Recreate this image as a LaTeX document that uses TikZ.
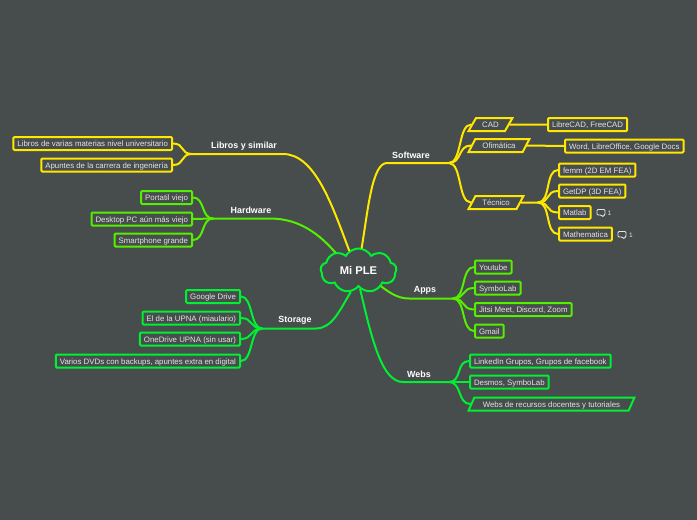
\documentclass[tikz,border=0pt]{standalone}
\usepackage{fontspec}
\setmainfont{Liberation Sans}
\usetikzlibrary{shapes.geometric,shapes.symbols}
\definecolor{bgdark}{HTML}{474C4C}
\definecolor{ylw}{HTML}{FFE800}
\definecolor{grn}{HTML}{00F032}
\definecolor{lime}{HTML}{55F000}
\definecolor{txt}{HTML}{E4E4E4}
\tikzset{%
  leaf/.style     = {shape=rectangle, rounded corners=1pt, draw, line width=2pt,%
                     fill=bgdark, text=txt, font=\fontsize{7.85}{9}\selectfont,%
                     minimum height=13pt, inner xsep=4pt, inner ysep=0pt,%
                     text height=7.5pt, text depth=1pt},%
  slanted/.style  = {leaf, shape=trapezium, rounded corners=0pt,%
                     trapezium left angle=58, trapezium right angle=122,%
                     trapezium stretches=true, inner xsep=2pt},%
  topic/.style    = {text=white, font=\bfseries\fontsize{8.9}{10}\selectfont,%
                     minimum height=16pt, inner sep=0pt, outer sep=0pt},%
  root/.style     = {shape=cloud, cloud puffs=9, cloud puff arc=120, aspect=1.7,%
                     draw=grn, line width=2pt, fill=bgdark, text=white,%
                     font=\bfseries\fontsize{11.2}{12}\selectfont,%
                     minimum width=76pt, minimum height=44pt, inner sep=0pt},%
  link/.style     = {line width=2pt, line cap=round},%
  branch/.style   = {out=180, in=0, distance=12pt},%
  rbranch/.style  = {out=0, in=180, distance=13pt},%
  bubble/.style   = {draw=txt, line width=.9pt, line join=round, rounded corners=1pt},%
  count/.style    = {text=txt, font=\fontsize{6.5}{8}\selectfont, inner sep=0pt}%
}
\newcommand{\commentmark}[2]{%
	\draw[bubble] (#1-4,#2-3.5) -- (#1+4,#2-3.5) -- (#1+4,#2+2) -- (#1+2.5,#2+2)%
		-- (#1+2.5,#2+4) -- (#1,#2+2) -- (#1-4,#2+2) -- cycle;%
}

\begin{document}
\begin{tikzpicture}[x=1pt,y=-1pt]%
	\fill[bgdark] (0,0) rectangle (697,520);
	\useasboundingbox (0,0) rectangle (697,520);
	% centre
	\node (ple) at (358.5,270.5) [root] {Mi PLE};
	% upper left
	\node (libros) at (244,146) [topic] {Libros y similar};
	\coordinate (hublibros) at (192,154);
	\node (varias) at (173,143.5) [leaf,draw=ylw,anchor=east] {Libros de varias materias nivel universitario};
	\node (apuntes) at (173,165) [leaf,draw=ylw,anchor=east] {Apuntes de la carrera de ingeniería};
	\draw[link,ylw] (ple.115) .. controls (332,205) and (315,154) .. (283,154) -- (libros.south west) -- (hublibros);
	\draw[link,ylw] (hublibros) to[branch] (varias.east);
	\draw[link,ylw] (hublibros) to[branch] (apuntes.east);
	\node (hardware) at (251,210.5) [topic] {Hardware};
	\coordinate (hubhardware) at (213,218.5);
	\node (portatil) at (193,197.5) [leaf,draw=lime,anchor=east] {Portatil viejo};
	\node (desktop) at (193,219) [leaf,draw=lime,anchor=east] {Desktop PC aún más viejo};
	\node (smartphone) at (193,240) [leaf,draw=lime,anchor=east] {Smartphone grande};
	\draw[link,lime] (ple.142) .. controls (320,235) and (300,218.5) .. (270,218.5) -- (hardware.south west) -- (hubhardware);
	\draw[link,lime] (hubhardware) to[branch] (portatil.east);
	\draw[link,lime] (hubhardware) -- (desktop.east);
	\draw[link,lime] (hubhardware) to[branch] (smartphone.east);
	% lower left
	\node (storage) at (295,320.5) [topic] {Storage};
	\coordinate (hubstorage) at (262,328.5);
	\node (gdrive) at (241,296.5) [leaf,draw=grn,anchor=east] {Google Drive};
	\node (miaulario) at (241,318) [leaf,draw=grn,anchor=east] {El de la UPNA (miaulario)};
	\node (onedrive) at (241,339) [leaf,draw=grn,anchor=east] {OneDrive UPNA (sin usar)};
	\node (dvds) at (241,361) [leaf,draw=grn,anchor=east] {Varios DVDs con backups, apuntes extra en digital};
	\draw[link,grn] (ple.250) .. controls (340,310) and (332,328.5) .. (316,328.5) -- (storage.south west) -- (hubstorage);
	\draw[link,grn] (hubstorage) to[branch] (gdrive.east);
	\draw[link,grn] (hubstorage) to[branch] (miaulario.east);
	\draw[link,grn] (hubstorage) to[branch] (onedrive.east);
	\draw[link,grn] (hubstorage) to[branch] (dvds.east);
	% upper right
	\node (software) at (411,155) [topic] {Software};
	\coordinate (hubsoftware) at (449,163);
	\node (cad) at (490.5,124.5) [slanted,draw=ylw,minimum width=44pt] {CAD};
	\node (ofimatica) at (499,145.5) [slanted,draw=ylw,minimum width=61pt] {Ofimática};
	\node (tecnico) at (496,202.5) [slanted,draw=ylw,minimum width=55pt] {Técnico};
	\coordinate (hubtecnico) at (538,202.5);
	\node (librecad) at (547,124.5) [leaf,draw=ylw,anchor=west] {LibreCAD, FreeCAD};
	\node (word) at (564,146) [leaf,draw=ylw,anchor=west] {Word, LibreOffice, Google Docs};
	\node (femm) at (558,170) [leaf,draw=ylw,anchor=west] {femm (2D EM FEA)};
	\node (getdp) at (558,191) [leaf,draw=ylw,anchor=west] {GetDP (3D FEA)};
	\node (matlab) at (558,212.5) [leaf,draw=ylw,anchor=west] {Matlab};
	\node (mathematica) at (558,234) [leaf,draw=ylw,anchor=west] {Mathematica};
	\draw[link,ylw] (ple.82) .. controls (368,210) and (372,163) .. (387,163) -- (software.south east) -- (hubsoftware);
	\draw[link,ylw] (hubsoftware) to[rbranch] (cad.west);
	\draw[link,ylw] (hubsoftware) to[rbranch] (ofimatica.west);
	\draw[link,ylw] (hubsoftware) to[rbranch] (tecnico.west);
	\draw[link,ylw] (cad.east) -- (librecad.west);
	\draw[link,ylw] (ofimatica.east) -- (word.west);
	\draw[link,ylw] (tecnico.east) -- (hubtecnico);
	\draw[link,ylw] (hubtecnico) to[rbranch] (femm.west);
	\draw[link,ylw] (hubtecnico) to[rbranch] (getdp.west);
	\draw[link,ylw] (hubtecnico) to[rbranch] (matlab.west);
	\draw[link,ylw] (hubtecnico) to[rbranch] (mathematica.west);
	% comments
	\commentmark{601}{213}
	\node (nmatlab) at (609.5,213.5) [count] {1};
	\commentmark{622}{235}
	\node (nmathematica) at (631,235.5) [count] {1};
	% lower right
	\node (apps) at (425,290.5) [topic] {Apps};
	\coordinate (hubapps) at (453,298.5);
	\node (youtube) at (474,267) [leaf,draw=lime,anchor=west] {Youtube};
	\node (symbolab) at (474,288) [leaf,draw=lime,anchor=west] {SymboLab};
	\node (jitsi) at (474,309.5) [leaf,draw=lime,anchor=west] {Jitsi Meet, Discord, Zoom};
	\node (gmail) at (474,331) [leaf,draw=lime,anchor=west] {Gmail};
	\draw[link,lime] (ple.325) .. controls (390,293) and (398,298.5) .. (409,298.5) -- (apps.south east) -- (hubapps);
	\draw[link,lime] (hubapps) to[rbranch] (youtube.west);
	\draw[link,lime] (hubapps) to[rbranch] (symbolab.west);
	\draw[link,lime] (hubapps) to[rbranch] (jitsi.west);
	\draw[link,lime] (hubapps) to[rbranch] (gmail.west);
	\node (webs) at (419,374) [topic] {Webs};
	\coordinate (hubwebs) at (449,382);
	\node (linkedin) at (469,361) [leaf,draw=grn,anchor=west] {LinkedIn Grupos, Grupos de facebook};
	\node (desmos) at (469,382) [leaf,draw=grn,anchor=west] {Desmos, SymboLab};
	\node (recursos) at (551.5,404) [slanted,draw=grn,minimum width=166pt] {Webs de recursos docentes y tutoriales};
	\draw[link,grn] (ple.275) .. controls (372,340) and (382,382) .. (403,382) -- (webs.south east) -- (hubwebs);
	\draw[link,grn] (hubwebs) to[rbranch] (linkedin.west);
	\draw[link,grn] (hubwebs) -- (desmos.west);
	\draw[link,grn] (hubwebs) to[rbranch] (recursos.west);
\end{tikzpicture}
\end{document}
